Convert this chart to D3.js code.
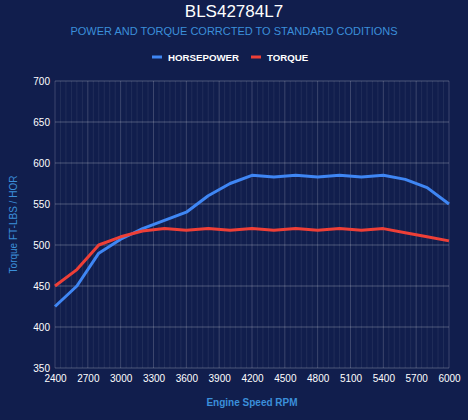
<!DOCTYPE html>
<html>
<head>
<meta charset="utf-8">
<script src="https://cdn.jsdelivr.net/npm/d3@7"></script>
<style>
  html, body { margin: 0; padding: 0; background: #111e4d; }
  svg { display: block; font-family: "Liberation Sans", Arial, sans-serif; }
</style>
</head>
<body>
<div id="chart"></div>
<script>
// data
const rpm = [2400, 2600, 2800, 3000, 3200, 3400, 3600, 3800, 4000, 4200,
             4400, 4600, 4800, 5000, 5200, 5400, 5600, 5800, 6000];
const horsepower = [425, 450, 490, 507, 520, 530, 540, 560, 575, 585,
                    583, 585, 583, 585, 583, 585, 580, 570, 550];
const torque = [450, 470, 500, 510, 517, 520, 518, 520, 518, 520,
                518, 520, 518, 520, 518, 520, 515, 510, 505];
const xTicks = [2400, 2700, 3000, 3300, 3600, 3900, 4200, 4500, 4800, 5100, 5400, 5700, 6000];
const yTicks = [350, 400, 450, 500, 550, 600, 650, 700];
const seriesNames = ["HORSEPOWER", "TORQUE"];
const seriesColors = ["#3f86f4", "#ee3f37"];

const svgWidth = 468;
const svgHeight = 420;
const margin = { top: 81, right: 19, bottom: 52, left: 55 };
const width = svgWidth - margin.left - margin.right;
const height = svgHeight - margin.top - margin.bottom;

const svg = d3.select("#chart")
    .append("svg")
    .attr("width", svgWidth)
    .attr("height", svgHeight);

svg.append("rect")
    .attr("width", svgWidth)
    .attr("height", svgHeight)
    .attr("fill", "#111e4d");

// titles
svg.append("text")
    .attr("x", svgWidth / 2)
    .attr("y", 17)
    .attr("text-anchor", "middle")
    .attr("fill", "#ffffff")
    .attr("font-size", "17px")
    .text("BLS42784L7");

svg.append("text")
    .attr("x", svgWidth / 2)
    .attr("y", 35)
    .attr("text-anchor", "middle")
    .attr("fill", "#3b8fda")
    .attr("font-size", "11px")
    .text("POWER AND TORQUE CORRCTED TO STANDARD CODITIONS");

// legend
const legend = svg.append("g").attr("transform", "translate(152, 57)");
const legendX = [0, 99];
seriesNames.forEach((name, i) => {
    const g = legend.append("g").attr("transform", `translate(${legendX[i]}, 0)`);
    g.append("rect")
        .attr("x", 0).attr("y", -1.5)
        .attr("width", 10).attr("height", 3)
        .attr("fill", seriesColors[i]);
    g.append("text")
        .attr("x", 16)
        .attr("y", 3.5)
        .attr("fill", "#ffffff")
        .attr("font-size", "9.7px")
        .attr("font-weight", "bold")
        .text(name);
});

const chartGroup = svg.append("g")
    .attr("transform", `translate(${margin.left}, ${margin.top})`);

const xScale = d3.scaleLinear().domain([2400, 6000]).range([0, width]);
const yScale = d3.scaleLinear().domain([350, 700]).range([height, 0]);

// minor vertical grid every 50 rpm
chartGroup.append("g")
    .selectAll("line")
    .data(d3.range(2400, 6001, 50))
    .join("line")
    .attr("x1", d => xScale(d)).attr("x2", d => xScale(d))
    .attr("y1", 0).attr("y2", height)
    .attr("stroke", "rgba(255,255,255,0.07)");

// major vertical grid
chartGroup.append("g")
    .selectAll("line")
    .data(xTicks)
    .join("line")
    .attr("x1", d => xScale(d)).attr("x2", d => xScale(d))
    .attr("y1", 0).attr("y2", height)
    .attr("stroke", "rgba(255,255,255,0.12)");

// horizontal grid
chartGroup.append("g")
    .selectAll("line")
    .data(yTicks)
    .join("line")
    .attr("x1", 0).attr("x2", width)
    .attr("y1", d => yScale(d)).attr("y2", d => yScale(d))
    .attr("stroke", "rgba(255,255,255,0.25)");

// axes
const xAxis = chartGroup.append("g")
    .attr("transform", `translate(0, ${height})`)
    .call(d3.axisBottom(xScale).tickValues(xTicks).tickFormat(d3.format("d")).tickSize(0).tickPadding(7));
const yAxis = chartGroup.append("g")
    .call(d3.axisLeft(yScale).tickValues(yTicks).tickFormat(d3.format("d")).tickSize(0).tickPadding(5));
[xAxis, yAxis].forEach(ax => {
    ax.select(".domain").remove();
    ax.selectAll("text")
        .attr("fill", "#ffffff")
        .attr("font-size", "10px")
        .attr("font-family", "'Liberation Sans', Arial, sans-serif");
});

// axis titles
chartGroup.append("text")
    .attr("x", width / 2)
    .attr("y", height + 38)
    .attr("text-anchor", "middle")
    .attr("fill", "#3b8fda")
    .attr("font-size", "10px")
    .attr("font-weight", "bold")
    .text("Engine Speed RPM");

chartGroup.append("text")
    .attr("transform", "rotate(-90)")
    .attr("x", -height / 2)
    .attr("y", -38)
    .attr("text-anchor", "middle")
    .attr("fill", "#3b8fda")
    .attr("font-size", "10px")
    .text("Torque FT-LBS / HOR");

// lines
const line = d3.line()
    .x(d => xScale(d[0]))
    .y(d => yScale(d[1]));

[horsepower, torque].forEach((vals, i) => {
    chartGroup.append("path")
        .datum(rpm.map((r, j) => [r, vals[j]]))
        .attr("d", line)
        .attr("fill", "none")
        .attr("stroke", seriesColors[i])
        .attr("stroke-width", 3)
        .attr("stroke-linejoin", "round");
});
</script>
</body>
</html>
